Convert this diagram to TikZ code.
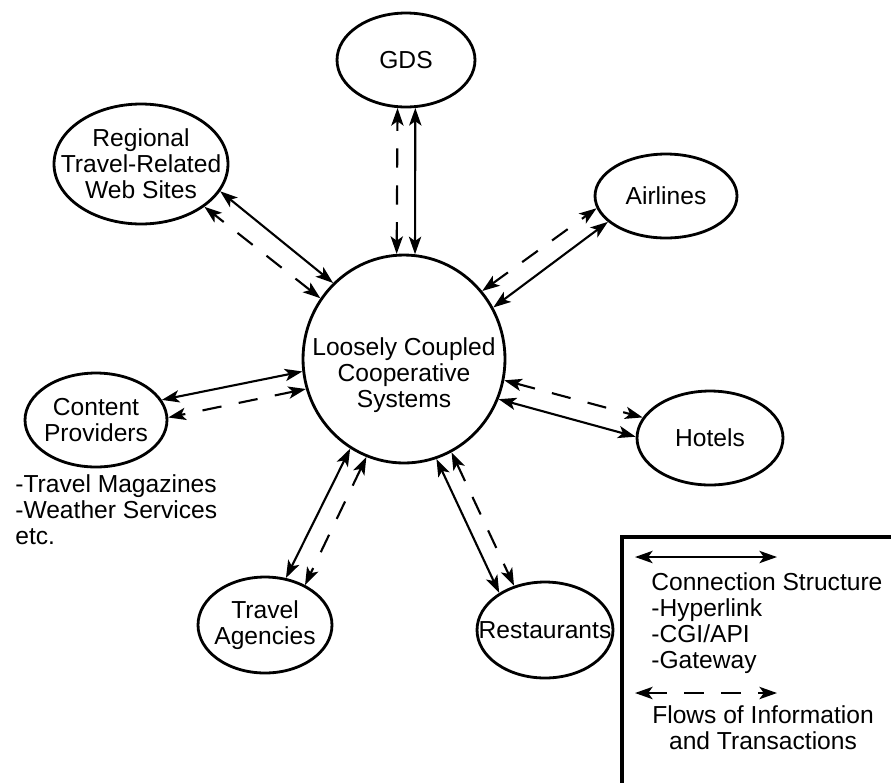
\documentclass[tikz,border=0pt]{standalone}
\usepackage{fontspec}
\setmainfont{Liberation Sans}
\usetikzlibrary{shapes.geometric,arrows.meta}
\begin{document}
\begin{tikzpicture}[x=0.02cm,y=-0.02cm,
  every node/.style={font=\fontsize{14}{14.8}\selectfont},
  party/.style={ellipse, draw, line width=1.6pt, inner sep=0pt},
  tag/.style={inner sep=0pt, align=center},
  link/.style={line width=1.2pt,
    {Stealth[length=10pt,width=7pt,inset=2.5pt]}-{Stealth[length=10pt,width=7pt,inset=2.5pt]}},
  flow/.style={link, dash pattern=on 11pt off 10pt},
  note/.style={inner sep=0pt, align=left, anchor=north west},
  frame/.style={line width=2pt},
]
\useasboundingbox (0,0) rectangle (891,782);

% central system and the parties around it
\node[party, minimum width=4.04cm, minimum height=4.16cm] (hub) at (404,359) {};
\node[tag] (hubtext) at (404,375) {Loosely Coupled\\Cooperative\\Systems};

\node[party, minimum width=2.76cm, minimum height=1.88cm,
      label={[tag]center:GDS}] (gds) at (406,60) {};
\node[party, minimum width=3.48cm, minimum height=2.40cm,
      label={[tag]center:{Regional\\Travel-Related\\Web Sites}}] (regional) at (141,164) {};
\node[party, minimum width=2.84cm, minimum height=1.68cm,
      label={[tag]center:Airlines}] (airlines) at (666,196) {};
\node[party, minimum width=2.92cm, minimum height=1.88cm,
      label={[tag]center:Hotels}] (hotels) at (710,438) {};
\node[party, minimum width=2.84cm, minimum height=1.88cm,
      label={[tag]center:{Content\\Providers}}] (content) at (96,420) {};
\node[party, minimum width=2.68cm, minimum height=1.92cm,
      label={[tag]center:{Travel\\Agencies}}] (travel) at (265,625) {};
\node[party, minimum width=2.72cm, minimum height=1.92cm,
      label={[tag]center:Restaurants}] (rest) at (545,630) {};

\node[note] (cpnotes) at (15,474) {-Travel Magazines\\-Weather Services\\etc.};

% connections (solid) and flows (dashed)
\draw[flow] (hub.94)  -- (gds.260);
\draw[link] (hub.84)  -- (gds.281);
\draw[link] (hub.133) -- (regional.341);
\draw[flow] (hub.144) -- (regional.326);
\draw[link] (hub.30)  -- (airlines.204);
\draw[flow] (hub.41)  -- (airlines.190);
\draw[link] (hub.337) -- (hotels.179);
\draw[flow] (hub.348) -- (hotels.163);
\draw[link] (hub.187) -- (content.17);
\draw[flow] (hub.197) -- (content.2);
\draw[link] (hub.239) -- (travel.66);
\draw[flow] (hub.249) -- (travel.45);
\draw[link] (hub.288) -- (rest.141);
\draw[flow] (hub.297) -- (rest.125);

% legend
\coordinate (frameA) at (622,800);
\coordinate (frameB) at (910,537);
\draw[frame] (frameA) |- (frameB);
\coordinate (ls1) at (635,557);
\coordinate (ls2) at (777,557);
\draw[link] (ls1) -- (ls2);
\node[note] (legtop) at (651,572) {Connection Structure\\-Hyperlink\\-CGI/API\\-Gateway};
\coordinate (lf1) at (635,693);
\coordinate (lf2) at (777,693);
\draw[flow] (lf1) -- (lf2);
\node[tag] (legflow) at (763,728) {Flows of Information\\and Transactions};
\end{tikzpicture}
\end{document}
